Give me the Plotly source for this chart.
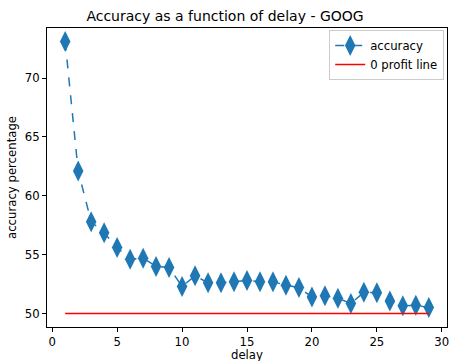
import plotly.graph_objects as go

# delay (days) vs. prediction accuracy (%)
delays = list(range(1, 30))
accuracy = [73.1, 62.1, 57.8, 56.85, 55.6, 54.6, 54.7, 54.0, 53.9, 52.3,
            53.2, 52.6, 52.6, 52.7, 52.8, 52.7, 52.7, 52.4, 52.2, 51.4,
            51.5, 51.3, 50.85, 51.8, 51.75, 51.05, 50.65, 50.7, 50.5]
profit_line = [50] * len(delays)

x_ticks = [0, 5, 10, 15, 20, 25, 30]
y_ticks = [50, 55, 60, 65, 70]

fig = go.Figure()
fig.add_trace(go.Scatter(
    x=delays, y=accuracy, mode="lines+markers", name="accuracy",
    line=dict(color="#1f77b4", width=1.5, dash="dash"),
    marker=dict(symbol="diamond-tall", size=15, color="#1f77b4"),
))
fig.add_trace(go.Scatter(
    x=[delays[0], delays[-1]], y=[profit_line[0], profit_line[-1]],
    mode="lines", name="0 profit line",
    line=dict(color="red", width=1.5),
))

axis_style = dict(
    showgrid=False, zeroline=False, showline=True, mirror=True,
    linecolor="black", linewidth=1, ticks="outside", ticklen=4,
    tickcolor="black", tickfont=dict(size=11.7, color="black"),
    automargin=False, ticklabeloverflow="allow",
)
fig.update_layout(
    width=450, height=361,
    margin=dict(l=47, r=3, t=28, b=34),
    paper_bgcolor="white", plot_bgcolor="white",
    font=dict(family="DejaVu Sans", size=11.7, color="black"),
    title=dict(text="Accuracy as a function of delay - GOOG",
               x=0.5, xanchor="center", y=0.956, yanchor="middle",
               font=dict(size=14)),
    xaxis=dict(range=[-0.4, 30.4], tickvals=x_ticks, **axis_style),
    yaxis=dict(range=[48.85, 74.25], tickvals=y_ticks,
               title=dict(text="accuracy percentage", standoff=5, font=dict(size=11.7)),
               **axis_style),
    legend=dict(x=0.993, y=0.993, xanchor="right", yanchor="top",
                bgcolor="rgba(255,255,255,0.8)", bordercolor="#cccccc",
                borderwidth=1, font=dict(size=11.7)),
    showlegend=True,
    annotations=[dict(text="delay", xref="paper", yref="paper",
                      x=0.5, y=-0.094, xanchor="center", yanchor="middle",
                      showarrow=False, font=dict(size=11.7))],
)

fig.write_html("out.html")
